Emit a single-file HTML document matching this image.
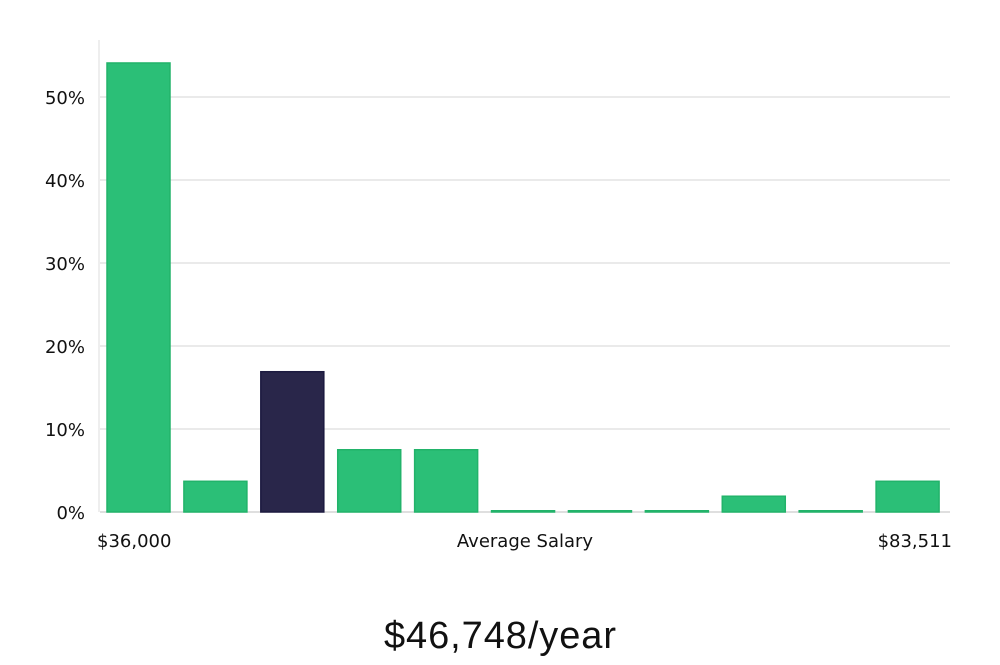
<!DOCTYPE html>
<html><head><meta charset="utf-8"><style>
body{margin:0;background:#fff;width:1000px;height:660px;overflow:hidden}
svg text{font-family:"DejaVu Sans","Liberation Sans",sans-serif;fill:#111}
</style></head><body>
<svg id="chart" width="1000" height="660">
<g id="grid"></g><g id="bars"></g><g id="labels"></g>
<text x="97" y="547" font-size="18">$36,000</text>
<text x="525" y="547" font-size="18" text-anchor="middle">Average Salary</text>
<text x="952" y="547" font-size="18" text-anchor="end">$83,511</text>
<text x="500" y="648" font-size="38" text-anchor="middle" style="font-family:'Liberation Sans Narrow','Liberation Sans',sans-serif" textLength="232">$46,748/year</text>
</svg>
<script>
const categories=["b1","b2","b3","b4","b5","b6","b7","b8","b9","b10","b11"];
const values=[54.1,3.7,16.9,7.5,7.5,0.15,0.15,0.15,1.9,0.15,3.7];
const highlight=[false,false,true,false,false,false,false,false,false,false,false];
const ticks=[0,10,20,30,40,50];
const tickLabels=["0%","10%","20%","30%","40%","50%"];
const NS="http://www.w3.org/2000/svg";
const y0=512,pxPer=8.3,left=100,right=950,pitch=(right-left-4)/categories.length,bw=63;
const y=v=>y0-v*pxPer;
const x=i=>left+7+i*pitch;
function mk(t,a,p){const e=document.createElementNS(NS,t);for(const k in a)e.setAttribute(k,a[k]);document.getElementById(p).appendChild(e);return e;}
ticks.forEach((t,i)=>{
 const l=mk("line",{x1:left,x2:right,y1:y(t),y2:y(t),stroke:i==0?"#ccc":"#ddd","stroke-width":1.2},"grid");
 
 
 const tx=mk("text",{x:85,y:y(t)+7,"font-size":18,"text-anchor":"end"},"labels");
 tx.textContent=tickLabels[i];
 
 
});
const ax=mk("line",{x1:left-1,x2:left-1,y1:40,y2:y0,stroke:"#ddd","stroke-width":1},"grid");


values.forEach((v,i)=>{
 const h=Math.max(v*pxPer,1);
 const r=mk("rect",{x:x(i),y:y0-h,width:bw,height:h,fill:highlight[i]?"#29264a":"#2bbf77",stroke:highlight[i]?"#1c1a40":"#22b36a","stroke-width":1.5},"bars");
 
 
});
</script>
</body></html>
